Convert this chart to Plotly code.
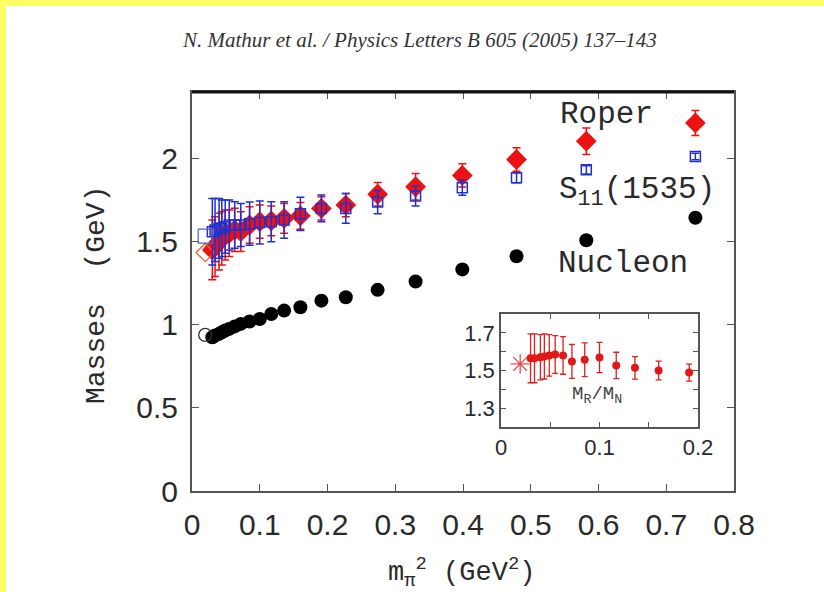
import plotly.graph_objects as go

# ---------------- data ----------------
mpi2 = [0.030, 0.034, 0.040, 0.044, 0.049, 0.055, 0.063, 0.072, 0.085, 0.100,
        0.117, 0.136, 0.160, 0.191, 0.227, 0.274, 0.330, 0.399, 0.479, 0.582, 0.743]

nucleon = [0.925, 0.935, 0.945, 0.955, 0.965, 0.975, 0.990, 1.005, 1.020, 1.035,
           1.065, 1.085, 1.105, 1.145, 1.165, 1.210, 1.260, 1.333, 1.412, 1.508, 1.644]
nucleon_err = [0.035, 0.035, 0.03, 0.03, 0.028, 0.025, 0.022, 0.02, 0.018, 0.015,
               0.012, 0.012, 0.01, 0.01, 0.01, 0.01, 0.01, 0.01, 0.01, 0.01, 0.01]

roper = [1.45, 1.47, 1.50, 1.52, 1.54, 1.55, 1.57, 1.56, 1.60, 1.62,
         1.625, 1.64, 1.655, 1.70, 1.72, 1.785, 1.83, 1.898, 1.994, 2.104, 2.214]
roper_err = [0.18, 0.18, 0.17, 0.16, 0.15, 0.14, 0.13, 0.12, 0.11, 0.10,
             0.09, 0.09, 0.08, 0.07, 0.07, 0.07, 0.08, 0.07, 0.07, 0.08, 0.075]

s11 = [1.56, 1.57, 1.58, 1.58, 1.59, 1.60, 1.60, 1.60, 1.608, 1.615,
       1.62, 1.63, 1.667, 1.70, 1.70, 1.738, 1.775, 1.824, 1.884, 1.932, 2.012]
s11_err = [0.20, 0.19, 0.18, 0.17, 0.16, 0.15, 0.14, 0.13, 0.13, 0.13,
           0.12, 0.11, 0.10, 0.08, 0.09, 0.07, 0.06, 0.045, 0.03, 0.025, 0.02]

# chirally extrapolated (physical) points
phys_x = [0.0195]
phys_nucleon = [0.939]
phys_roper = [1.434]
phys_s11 = [1.533]

# inset: ratio M_R / M_N
ratio_x = mpi2[:14]
ratio = [1.565, 1.565, 1.570, 1.575, 1.580, 1.585, 1.580, 1.548, 1.557, 1.569,
         1.527, 1.514, 1.500, 1.489]
ratio_err = [0.13, 0.13, 0.12, 0.12, 0.11, 0.10, 0.10, 0.09, 0.09, 0.08,
             0.07, 0.06, 0.05, 0.045]
ratio_phys_x = [0.0195]
ratio_phys = [1.535]

x_ticks = [0, 0.1, 0.2, 0.3, 0.4, 0.5, 0.6, 0.7, 0.8]
x_ticktext = ["0", "0.1", "0.2", "0.3", "0.4", "0.5", "0.6", "0.7", "0.8"]
y_ticks = [0, 0.5, 1, 1.5, 2]
y_ticktext = ["0", "0.5", "1", "1.5", "2"]
ix_ticks = [0, 0.05, 0.1, 0.15, 0.2]
ix_ticktext = ["0", "", "0.1", "", "0.2"]
iy_ticks = [1.3, 1.4, 1.5, 1.6, 1.7]
iy_ticktext = ["1.3", "", "1.5", "", "1.7"]

# ---------------- layout geometry (pixels) ----------------
W, H = 824, 592
L, R, T, B = 192, 734, 92, 491
PW, PH = R - L, B - T


def px(x):
    return (x - L) / PW


def py(y):
    return (B - y) / PH


RED = "#ee1111"
BLUE = "#2030d0"
MONO = "Liberation Mono, Courier New, monospace"
SANS = "Liberation Sans, Arial, Helvetica, sans-serif"
TXT = "#2a2a2a"

fig = go.Figure()

# nucleon
fig.add_trace(go.Scatter(
    x=mpi2, y=nucleon, mode="markers",
    error_y=dict(type="data", array=nucleon_err, color="black", thickness=1.2, width=3),
    marker=dict(symbol="circle", size=14, color="black"),
    showlegend=False))
fig.add_trace(go.Scatter(
    x=phys_x, y=phys_nucleon, mode="markers",
    marker=dict(symbol="circle-open", size=13, color="#333333", line=dict(width=1.3)),
    showlegend=False))

# Roper
fig.add_trace(go.Scatter(
    x=mpi2, y=roper, mode="markers",
    error_y=dict(type="data", array=roper_err, color=RED, thickness=1.5, width=4),
    marker=dict(symbol="diamond", size=16, color=RED),
    showlegend=False))
fig.add_trace(go.Scatter(
    x=phys_x, y=phys_roper, mode="markers",
    marker=dict(symbol="diamond-open", size=14, color="#f06030", line=dict(width=1.3)),
    showlegend=False))

# S11
fig.add_trace(go.Scatter(
    x=mpi2, y=s11, mode="markers",
    error_y=dict(type="data", array=s11_err, color=BLUE, thickness=1.5, width=4),
    marker=dict(symbol="square-open", size=10, color=BLUE, line=dict(width=1.5)),
    showlegend=False))
fig.add_trace(go.Scatter(
    x=phys_x, y=phys_s11, mode="markers",
    marker=dict(symbol="square-open", size=14, color="#5060c0", line=dict(width=1.2)),
    showlegend=False))

# inset
fig.add_trace(go.Scatter(
    x=ratio_x, y=ratio, mode="markers", xaxis="x2", yaxis="y2",
    error_y=dict(type="data", array=ratio_err, color="#dd2020", thickness=1.3, width=3),
    marker=dict(symbol="circle", size=8, color="#e01818"),
    showlegend=False))
fig.add_trace(go.Scatter(
    x=ratio_phys_x, y=ratio_phys, mode="markers", xaxis="x2", yaxis="y2",
    marker=dict(symbol="asterisk-open", size=16, color="#e05050",
                line=dict(width=1.3, color="#e05050")),
    showlegend=False))

axis_common = dict(showgrid=False, zeroline=False, showline=True, mirror="ticks",
                   ticks="inside", linecolor="#555555", tickcolor="#555555")

fig.update_layout(
    width=W, height=H,
    margin=dict(l=L, r=W - R, t=T, b=H - B),
    paper_bgcolor="white", plot_bgcolor="white",
    xaxis=dict(range=[0, 0.8], tickvals=x_ticks, ticktext=x_ticktext, ticklen=7,
               linewidth=2, tickfont=dict(family=SANS, size=30, color=TXT),
               ticklabelstandoff=6, **axis_common),
    yaxis=dict(range=[0, 2.4], tickvals=y_ticks, ticktext=y_ticktext, ticklen=7,
               linewidth=2, tickfont=dict(family=SANS, size=30, color=TXT),
               ticklabelstandoff=6, **axis_common),
    xaxis2=dict(domain=[px(501), px(698)], anchor="y2", range=[0, 0.2],
                tickvals=ix_ticks, ticktext=ix_ticktext, ticklen=5, linewidth=1.5,
                tickfont=dict(family=SANS, size=22, color=TXT), **axis_common),
    yaxis2=dict(domain=[py(427), py(314)], anchor="x2", range=[1.2, 1.8],
                tickvals=iy_ticks, ticktext=iy_ticktext, ticklen=5, linewidth=1.5,
                tickfont=dict(family=SANS, size=22, color=TXT), **axis_common),
)

# inset white background
fig.add_shape(type="rect", xref="paper", yref="paper", x0=px(501), x1=px(698),
              y0=py(427), y1=py(314), fillcolor="white", line=dict(width=0), layer="below")

# thicker dark top frame line
fig.add_shape(type="line", xref="paper", yref="paper", x0=0, x1=1, y0=1, y1=1,
              line=dict(color="#111111", width=3))

# yellow border (top and left)
fig.add_shape(type="rect", xref="paper", yref="paper", x0=px(0), x1=px(824),
              y0=py(6), y1=py(0), fillcolor="#ffff66", line=dict(width=0))
fig.add_shape(type="rect", xref="paper", yref="paper", x0=px(0), x1=px(6),
              y0=py(592), y1=py(0), fillcolor="#ffff66", line=dict(width=0))


def note(text, x, y, size, family=MONO, xanchor="center", color=TXT, **kw):
    return dict(text=text, x=px(x), y=py(y), xref="paper", yref="paper",
                xanchor=xanchor, yanchor="middle", showarrow=False,
                font=dict(family=family, size=size, color=color), **kw)


ann = [
    dict(text="N. Mathur et al. / Physics Letters B 605 (2005) 137–143",
         x=px(419), y=py(40), xref="paper", yref="paper", xanchor="center",
         yanchor="middle", showarrow=False,
         font=dict(family="Liberation Serif, Times New Roman, serif", size=21,
                   color="#333333", style="italic")),
    note("Roper", 558, 114, 31, xanchor="left"),
    note("S<sub>11</sub>(1535)", 557, 192, 31, xanchor="left"),
    note("Nucleon", 556, 263, 31, xanchor="left"),
    note("M<sub>R</sub>/M<sub>N</sub>", 597, 395, 19, color="#444444"),
    note("Masses&nbsp;&nbsp;(GeV)", 96, 295, 28, textangle=-90),
    note("m<sub>π</sub><sup>2</sup> (GeV<sup>2</sup>)", 461, 572, 27),
]
fig.update_layout(annotations=ann)

fig.write_html("out.html", config={"displayModeBar": False},
               post_script="document.body.style.margin='0px';")
